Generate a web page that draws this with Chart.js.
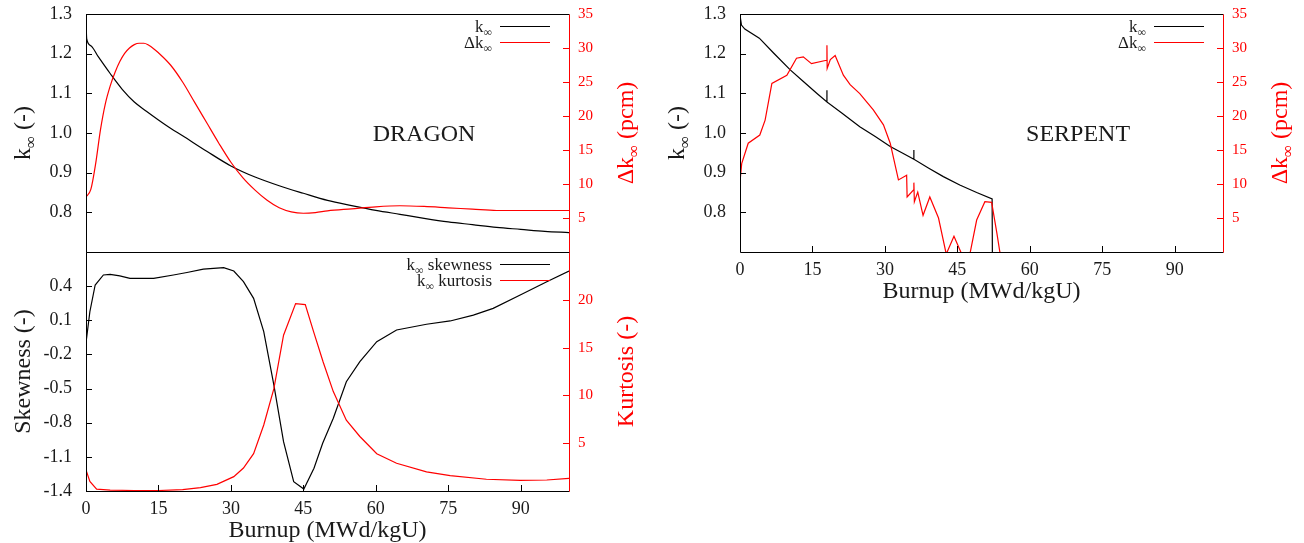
<!DOCTYPE html>
<html>
<head>
<meta charset="utf-8">
<title>k-inf DRAGON / SERPENT</title>
<script src="https://cdn.jsdelivr.net/npm/chart.js@4.4.1/dist/chart.umd.min.js"></script>
<style>
  body { margin: 0; background: #fff; }
  #wrap { position: relative; width: 1304px; height: 543px; overflow: hidden; }
  canvas { position: absolute; }
</style>
</head>
<body>
<div id="wrap">
  <canvas id="dragon" width="660" height="262" style="left:0;top:0"></canvas>
  <canvas id="moments" width="660" height="303" style="left:0;top:240px"></canvas>
  <canvas id="serpent" width="650" height="310" style="left:654px;top:0"></canvas>
</div>
<script>
// ---- данные ----

// тики осей
const burnupTicks = [0, 15, 30, 45, 60, 75, 90];
const kinfTicks = [0.8, 0.9, 1.0, 1.1, 1.2, 1.3];
const dkTicks = [5, 10, 15, 20, 25, 30, 35];
const skewTicks = [-1.4, -1.1, -0.8, -0.5, -0.2, 0.1, 0.4];
const kurtTicks = [5, 10, 15, 20];

// DRAGON: k-inf
const dragonKBurnup = [0, 0.15, 1, 2.5, 5, 7.5, 10, 12.5, 15, 17.5, 20, 25, 30, 35, 40, 45, 50, 55, 60, 65, 70, 75, 80, 85, 90, 95, 100];
const dragonK = [1.283, 1.237, 1.220, 1.193, 1.150, 1.110, 1.078, 1.055, 1.033, 1.012, 0.993, 0.954, 0.917, 0.889, 0.867, 0.848, 0.830, 0.817, 0.805, 0.795, 0.785, 0.776, 0.769, 0.762, 0.757, 0.752, 0.749];

// DRAGON: delta k-inf (pcm)
const dragonDkBurnup = [0, 1, 2, 3, 4, 5, 6, 7, 8, 9, 10, 11, 12, 13, 14, 15, 17.5, 20, 22.5, 25, 27.5, 30, 32.5, 35, 37.5, 40, 42.5, 45, 47.5, 50, 55, 60, 65, 70, 75, 80, 85, 90, 95, 100];
const dragonDk = [8.1, 9.2, 13.0, 18.0, 21.8, 24.4, 26.4, 28.0, 29.2, 30.0, 30.5, 30.7, 30.7, 30.4, 29.9, 29.3, 27.5, 25.0, 22.0, 19.0, 16.0, 13.2, 10.9, 9.1, 7.6, 6.5, 5.9, 5.7, 5.8, 6.05, 6.35, 6.65, 6.8, 6.7, 6.5, 6.3, 6.1, 6.1, 6.1, 6.1];

// DRAGON: skewness
const skewBurnup = [0, 0.8, 1.9, 3.6, 5, 7, 9.1, 14, 18.1, 20.9, 24.3, 28.5, 30.6, 32.6, 34.7, 36.8, 38.9, 40.9, 43, 45.1, 47.2, 49, 51.2, 53.9, 56.7, 60.2, 64.3, 70.5, 75.4, 80.2, 84.3, 89.9, 95.4, 100];
const skew = [-0.10, 0.175, 0.41, 0.498, 0.504, 0.49, 0.469, 0.469, 0.498, 0.52, 0.55, 0.562, 0.533, 0.44, 0.293, 0.0, -0.47, -0.967, -1.318, -1.383, -1.2, -0.98, -0.76, -0.44, -0.264, -0.088, 0.015, 0.065, 0.094, 0.146, 0.205, 0.322, 0.439, 0.533];

// DRAGON: kurtosis
const kurtBurnup = [0, 0.8, 2.2, 5, 10, 15, 20, 23.7, 27.1, 30.6, 32.6, 34.7, 36.8, 38.9, 40.9, 43.4, 45.4, 47.1, 49.1, 51.2, 53.9, 56.7, 60.2, 64.3, 70.5, 75.4, 82.9, 89.9, 95.4, 100];
const kurt = [2.2, 1.0, 0.2, 0.1, 0.05, 0.05, 0.15, 0.35, 0.7, 1.5, 2.4, 3.9, 6.9, 10.7, 16.3, 19.6, 19.5, 16.7, 13.5, 10.4, 7.4, 5.7, 3.9, 2.9, 2.0, 1.6, 1.23, 1.12, 1.15, 1.33];

// SERPENT: k-inf (обрывается после ~52 MWd/kgU)
const serpKBurnup = [0, 0.3, 1, 4, 7, 10.4, 13, 16, 18, 18, 18, 21, 24.8, 28, 31.1, 34, 36, 36, 36, 39, 42.1, 45.5, 49, 52.2, 52.5];
const serpK = [1.297, 1.272, 1.262, 1.239, 1.201, 1.159, 1.131, 1.099, 1.078, 1.108, 1.078, 1.051, 1.016, 0.991, 0.966, 0.947, 0.934, 0.957, 0.934, 0.912, 0.890, 0.869, 0.850, 0.834, 0];

// SERPENT: delta k-inf (pcm)
const serpDkBurnup = [0, 0.35, 1.7, 4.1, 5.2, 6.6, 9.7, 11.7, 13.1, 14.8, 17.9, 18.0, 18.05, 18.7, 19.7, 21.4, 22.8, 24.8, 27.6, 29.7, 31.1, 32.8, 34.5, 34.6, 35.9, 36.0, 36.1, 36.8, 37.9, 39.3, 41.1, 42.7, 44.3, 45.9, 46.7, 47.6, 49.0, 50.7, 52.1, 53.2, 53.8, 54.2];
const serpDk = [10.3, 13.0, 16.0, 17.2, 19.4, 24.8, 26.0, 28.5, 28.7, 27.7, 28.2, 30.4, 27.0, 28.3, 28.9, 26.0, 24.6, 23.3, 20.9, 18.7, 16.0, 10.6, 11.3, 8.1, 9.1, 10.2, 7.4, 8.8, 5.4, 8.1, 5.0, -0.3, 2.3, -0.3, -1.5, -0.3, 4.7, 7.4, 7.3, 2.7, 0, -1];

// ---- оформление ----
const FONT = "'Liberation Serif', 'Times New Roman', serif";
const TEXT = "#1a1a1a";
const RED = "#ff0000";
Chart.defaults.font.family = FONT;

const K_INF = [["k"], ["\u221e", 1]];
const DK_INF = [["\u0394k"], ["\u221e", 1]];

function points(xs, ys) {
  return xs.map((x, i) => ({ x: x, y: ys[i] }));
}

/**
 * Текст с нижними индексами: parts = [[текст], [текст, 1 - индекс], ...]
 */
function drawRich(ctx, parts, x, y, size, color, align, rotate) {
  ctx.save();
  ctx.translate(x, y);
  if (rotate) ctx.rotate(-Math.PI / 2);
  ctx.fillStyle = color;
  ctx.textBaseline = "alphabetic";
  ctx.textAlign = "left";
  const fonts = parts.map((p) => (p[1] ? size * 0.7 : size) + "px " + FONT);
  const widths = parts.map((p, i) => {
    ctx.font = fonts[i];
    return ctx.measureText(p[0]).width;
  });
  const total = widths.reduce((a, b) => a + b, 0);
  let cx = align === "right" ? -total : align === "center" ? -total / 2 : 0;
  const base = size * 0.33;
  parts.forEach((p, i) => {
    ctx.font = fonts[i];
    ctx.fillText(p[0], cx, base + (p[1] ? size * 0.24 : 0));
    cx += widths[i];
  });
  ctx.restore();
}

/**
 * Рамка, внутренние тики, легенда и подписи в стиле gnuplot.
 * Конфиг держим в замыкании, чтобы Chart.js не пропускал его через свой resolver.
 */
function panelPlugin(cfg) {
  return {
    id: "panel",
    afterDraw(chart) {
      const ctx = chart.ctx;
      const { left, right, top, bottom } = chart.chartArea;
      const sx = chart.scales.x;
      const sy = chart.scales.y;
      const sy2 = chart.scales.y2;
      const crisp = (v) => Math.round(v) + 0.5;

      ctx.save();
      ctx.lineWidth = 1;

      // тики внутрь
      ctx.strokeStyle = "#000";
      ctx.beginPath();
      if (cfg.xMarks) {
        sx.ticks.forEach((t) => {
          const px = crisp(sx.getPixelForValue(t.value));
          ctx.moveTo(px, bottom);
          ctx.lineTo(px, bottom - 6);
        });
      }
      sy.ticks.forEach((t) => {
        const py = crisp(sy.getPixelForValue(t.value));
        ctx.moveTo(left, py);
        ctx.lineTo(left + 6, py);
      });
      ctx.stroke();

      ctx.strokeStyle = RED;
      ctx.beginPath();
      sy2.ticks.forEach((t) => {
        const py = crisp(sy2.getPixelForValue(t.value));
        ctx.moveTo(right, py);
        ctx.lineTo(right - 6, py);
      });
      ctx.stroke();

      // рамка
      ctx.strokeStyle = "#000";
      ctx.beginPath();
      ctx.moveTo(crisp(left), crisp(bottom));
      ctx.lineTo(crisp(left), crisp(top));
      ctx.lineTo(crisp(right), crisp(top));
      ctx.moveTo(crisp(left), crisp(bottom));
      ctx.lineTo(crisp(right), crisp(bottom));
      ctx.stroke();
      ctx.strokeStyle = RED;
      ctx.beginPath();
      ctx.moveTo(crisp(right), crisp(top));
      ctx.lineTo(crisp(right), crisp(bottom));
      ctx.stroke();

      // легенда (справа сверху)
      cfg.legend.forEach((row, i) => {
        const ly = top + 12 + i * 16;
        drawRich(ctx, row.parts, right - 77, ly, 17, TEXT, "right");
        ctx.strokeStyle = row.color;
        ctx.lineWidth = 1.2;
        ctx.beginPath();
        ctx.moveTo(right - 69, crisp(ly));
        ctx.lineTo(right - 19, crisp(ly));
        ctx.stroke();
      });

      // название кода
      if (cfg.label) {
        drawRich(ctx, [[cfg.label]], sx.getPixelForValue(70), (top + bottom) / 2, 24, TEXT, "center");
      }

      // заголовки осей
      drawRich(ctx, cfg.yTitle, 22, (top + bottom) / 2, 24, TEXT, "center", true);
      drawRich(ctx, cfg.y2Title, right + 56, (top + bottom) / 2, 24, RED, "center", true);
      if (cfg.xTitle) {
        drawRich(ctx, [[cfg.xTitle]], (left + right) / 2, bottom + 38, 24, TEXT, "center");
      }
      ctx.restore();
    },
  };
}

// Chart.js добавляет к краям оси место под крайние подписи — убираем,
// чтобы область графика стояла ровно там, где в оригинале
function noEdgePadding(s) {
  s.paddingTop = 0;
  s.paddingBottom = 0;
  s.paddingLeft = 0;
  s.paddingRight = 0;
}

function makeScales(cfg) {
  const common = {
    type: "linear",
    grid: { display: false, drawTicks: false },
    border: { display: false },
  };
  return {
    x: {
      ...common,
      min: 0,
      max: 100,
      afterBuildTicks: (s) => { s.ticks = burnupTicks.map((v) => ({ value: v })); },
      afterFit: (s) => { s.height = cfg.xHeight; noEdgePadding(s); },
      ticks: {
        display: cfg.xLabels,
        padding: 7,
        maxRotation: 0,
        minRotation: 0,
        autoSkip: false,
        color: TEXT,
        font: { size: 18 },
        callback: (v) => String(v),
      },
    },
    y: {
      ...common,
      position: "left",
      min: cfg.yMin,
      max: cfg.yMax,
      afterBuildTicks: (s) => { s.ticks = cfg.yTicks.map((v) => ({ value: v })); },
      afterFit: (s) => { s.width = 86; noEdgePadding(s); },
      ticks: { padding: 14, color: TEXT, font: { size: 18 }, callback: (v) => v.toFixed(1) },
    },
    y2: {
      ...common,
      position: "right",
      min: cfg.y2Min,
      max: cfg.y2Max,
      afterBuildTicks: (s) => { s.ticks = cfg.y2Ticks.map((v) => ({ value: v })); },
      afterFit: (s) => { s.width = cfg.rightWidth; noEdgePadding(s); },
      ticks: { padding: 9, color: RED, font: { size: 15 }, callback: (v) => String(v) },
    },
  };
}

function series(data, color, axis, smooth) {
  return {
    data: data,
    yAxisID: axis,
    borderColor: color,
    borderWidth: 1.2,
    pointRadius: 0,
    fill: false,
    tension: smooth ? 0.4 : 0,
    cubicInterpolationMode: smooth ? "monotone" : "default",
  };
}

function makeChart(id, datasets, scaleCfg, panel, padTop) {
  return new Chart(document.getElementById(id), {
    type: "line",
    data: { datasets: datasets },
    options: {
      responsive: false,
      animation: false,
      layout: { padding: { top: padTop, left: 0, right: 0, bottom: 0 } },
      plugins: { legend: { display: false }, tooltip: { enabled: false } },
      scales: makeScales(scaleCfg),
    },
    plugins: [panelPlugin(panel)],
  });
}

// DRAGON, k-inf и delta k-inf
makeChart(
  "dragon",
  [
    series(points(dragonDkBurnup, dragonDk), RED, "y2", true),
    series(points(dragonKBurnup, dragonK), "#000", "y", true),
  ],
  { xHeight: 10, xLabels: false, yMin: 0.7, yMax: 1.3, yTicks: kinfTicks, y2Min: 0, y2Max: 35, y2Ticks: dkTicks, rightWidth: 91 },
  {
    xMarks: false,
    label: "DRAGON",
    legend: [{ parts: K_INF, color: "#000" }, { parts: DK_INF, color: RED }],
    yTitle: K_INF.concat([[" (-)"]]),
    y2Title: DK_INF.concat([[" (pcm)"]]),
    xTitle: null,
  },
  14
);

// DRAGON, асимметрия и эксцесс
makeChart(
  "moments",
  [
    series(points(kurtBurnup, kurt), RED, "y2", false),
    series(points(skewBurnup, skew), "#000", "y", false),
  ],
  { xHeight: 52, xLabels: true, yMin: -1.4, yMax: 0.7, yTicks: skewTicks, y2Min: 0, y2Max: 25, y2Ticks: kurtTicks, rightWidth: 91 },
  {
    xMarks: true,
    label: null,
    legend: [
      { parts: K_INF.concat([[" skewness"]]), color: "#000" },
      { parts: K_INF.concat([[" kurtosis"]]), color: RED },
    ],
    yTitle: [["Skewness (-)"]],
    y2Title: [["Kurtosis (-)"]],
    xTitle: "Burnup (MWd/kgU)",
  },
  12
);

// SERPENT
makeChart(
  "serpent",
  [
    series(points(serpDkBurnup, serpDk), RED, "y2", false),
    series(points(serpKBurnup, serpK), "#000", "y", false),
  ],
  { xHeight: 58, xLabels: true, yMin: 0.7, yMax: 1.3, yTicks: kinfTicks, y2Min: 0, y2Max: 35, y2Ticks: dkTicks, rightWidth: 81 },
  {
    xMarks: true,
    label: "SERPENT",
    legend: [{ parts: K_INF, color: "#000" }, { parts: DK_INF, color: RED }],
    yTitle: K_INF.concat([[" (-)"]]),
    y2Title: DK_INF.concat([[" (pcm)"]]),
    xTitle: "Burnup (MWd/kgU)",
  },
  14
);
</script>
</body>
</html>
